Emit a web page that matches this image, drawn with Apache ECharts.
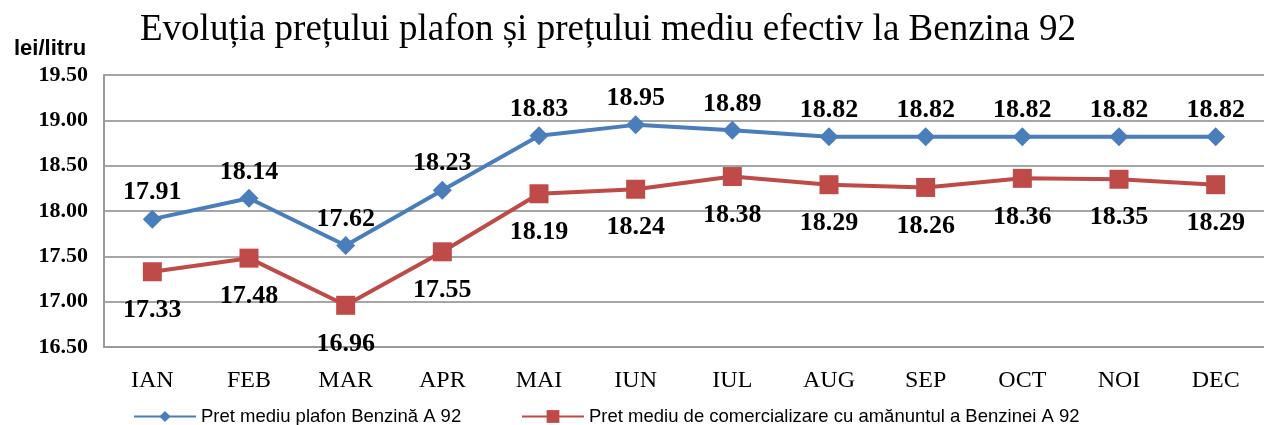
<!DOCTYPE html>
<html><head><meta charset="utf-8">
<script src="https://cdn.jsdelivr.net/npm/echarts@6/dist/echarts.min.js"></script>
<style>html,body{margin:0;padding:0;background:#fff}#c{width:1264px;height:425px}</style>
</head><body><div id="c"></div>
<script>
const months = ['IAN','FEB','MAR','APR','MAI','IUN','IUL','AUG','SEP','OCT','NOI','DEC'];
const plafon = [17.91,18.14,17.62,18.23,18.83,18.95,18.89,18.82,18.82,18.82,18.82,18.82];
const comercial = [17.33,17.48,16.96,17.55,18.19,18.24,18.38,18.29,18.26,18.36,18.35,18.29];
const nameA = 'Pret mediu plafon Benzină A 92';
const nameB = 'Pret mediu de comercializare cu amănuntul a Benzinei A 92';
const blue = '#4a7ebb', red = '#be4b48';
const chart = echarts.init(document.getElementById('c'));
const lblFont = {fontFamily:'Liberation Serif', fontWeight:'bold', fontSize:26, color:'#000'};
chart.setOption({
  animation:false,
  title:[{text:'Evoluția prețului plafon și prețului mediu efectiv la Benzina 92', left:135, top:7,
    textStyle:{fontFamily:'Liberation Serif', fontWeight:'normal', fontSize:37, color:'#000'}},
    {text:'lei/litru', left:9, top:33, textStyle:{fontFamily:'Liberation Sans', fontWeight:'bold', fontSize:22, color:'#000'}}],
  legend:[{data:[nameA], left:128, top:402, itemWidth:62, itemHeight:14, itemGap:6,
    textStyle:{fontFamily:'Liberation Sans', fontSize:18.5, color:'#000'}},
    {data:[nameB], left:516, top:402, itemWidth:62, itemHeight:16,
    textStyle:{fontFamily:'Liberation Sans', fontSize:18.5, color:'#000'}}],
  grid:{left:104, top:75, height:272, width:1166},
  xAxis:{type:'category', data:months, boundaryGap:true,
    axisLine:{lineStyle:{color:'#9a9a9a', width:2}}, axisTick:{show:false},
    axisLabel:{fontFamily:'Liberation Serif', fontSize:24, color:'#000', margin:22}},
  yAxis:{type:'value', min:16.5, max:19.5, interval:0.5,
    axisLine:{show:true, lineStyle:{color:'#9a9a9a', width:2}},
    splitLine:{lineStyle:{color:'#a6a6a6', width:2}},
    axisLabel:{fontFamily:'Liberation Serif', fontWeight:'bold', fontSize:22, color:'#000', margin:16,
      formatter:v=>v.toFixed(2)}},
  series:[
    {name:nameA, type:'line', data:plafon, symbol:'diamond', symbolSize:19,
     lineStyle:{color:blue, width:4}, itemStyle:{color:blue},
     label:{show:true, position:'top', distance:4, formatter:p=>p.value.toFixed(2), ...lblFont}},
    {name:nameB, type:'line', data:comercial, symbol:'rect', symbolSize:19,
     lineStyle:{color:red, width:4}, itemStyle:{color:red},
     label:{show:true, position:'bottom', distance:16, formatter:p=>p.value.toFixed(2), ...lblFont}}
  ]
});
</script></body></html>
